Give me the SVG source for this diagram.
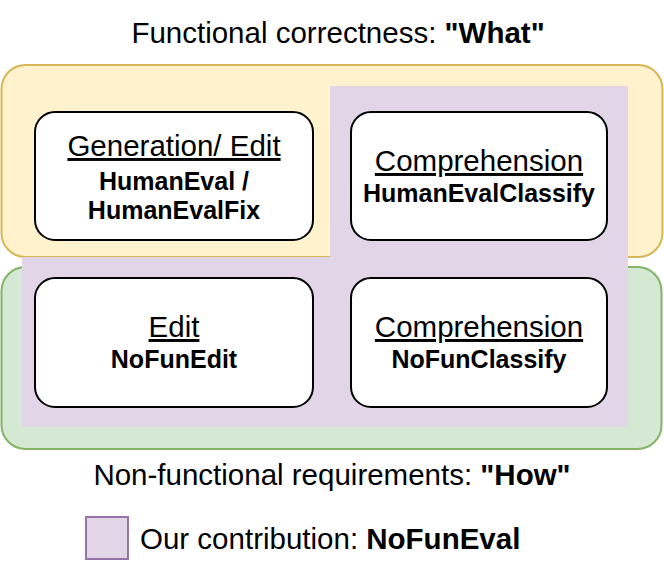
<svg xmlns="http://www.w3.org/2000/svg" width="664" height="570" viewBox="0 0 664 570">
<style>
text{font-family:"Liberation Sans",Arial,sans-serif;fill:#000;text-anchor:middle}
.t{font-size:29.5px;text-decoration:underline}
.b{font-size:25px;font-weight:bold}
.l{font-size:29.5px}
.box{fill:#fff;stroke:#000;stroke-width:2}
</style>
<rect width="664" height="570" fill="#fff"/>
<g id="green"><rect x="1.5" y="267" width="660" height="182" rx="24" fill="#d5e8d4" stroke="#82b366" stroke-width="2"/></g>
<g id="yellow"><rect x="1.5" y="65" width="661" height="192" rx="24" fill="#fff2cc" stroke="#d6b656" stroke-width="2"/></g>
<g id="purple"><path d="M330 86H628V427H22V257H330Z" fill="#e1d5e7"/></g>
<g id="n1"><rect class="box" x="35" y="112" width="278" height="128" rx="20"/>
<text class="t" x="174" y="156">Generation/ Edit</text>
<text class="b" x="174" y="190">HumanEval /</text>
<text class="b" x="174" y="219">HumanEvalFix</text></g>
<g id="n2"><rect class="box" x="351" y="112" width="256" height="128" rx="20"/>
<text class="t" x="479" y="171">Comprehension</text>
<text class="b" x="479" y="202">HumanEvalClassify</text></g>
<g id="n3"><rect class="box" x="35" y="278" width="278" height="129" rx="20"/>
<text class="t" x="174" y="337">Edit</text>
<text class="b" x="174" y="368">NoFunEdit</text></g>
<g id="n4"><rect class="box" x="351" y="278" width="256" height="129" rx="20"/>
<text class="t" x="479" y="337">Comprehension</text>
<text class="b" x="479" y="368">NoFunClassify</text></g>
<g id="labels">
<text class="l" x="338" y="43">Functional correctness: <tspan font-weight="bold">"What"</tspan></text>
<text class="l" x="332" y="485">Non-functional requirements: <tspan font-weight="bold">"How"</tspan></text>
<rect x="86" y="517" width="42" height="42" fill="#e1d5e7" stroke="#9673a6" stroke-width="2"/>
<text class="l" x="140" y="549" style="text-anchor:start">Our contribution: <tspan font-weight="bold">NoFunEval</tspan></text>
</g>
<g id="connectors"/>
</svg>
